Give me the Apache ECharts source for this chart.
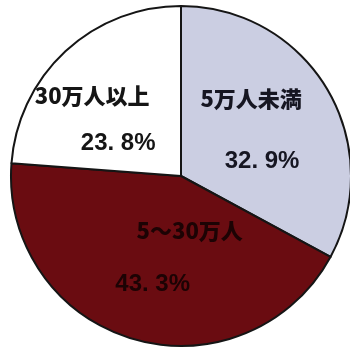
<!DOCTYPE html>
<html>
<head>
<meta charset="utf-8">
<script src="https://cdn.jsdelivr.net/npm/echarts@6/dist/echarts.min.js"></script>
<style>
  html, body { margin: 0; padding: 0; background: #ffffff; }
  #chart { width: 350px; height: 348px; }
</style>
</head>
<body>
<div id="chart"></div>
<script>
// Population-size groups and their shares (%)
const categories = ['5万人未満', '5～30万人', '30万人以上'];
const shares = [32.9, 43.3, 23.8];

const sliceColors = ['#cbcee2', '#6a0c11', '#ffffff'];
const textColors = ['#161622', '#1c0304', '#151515'];
// label fine-tuning: block shift and horizontal stagger of name / percent lines
const labelShift = [[0, -1], [15, -3], [-16, 8]];
const lineStagger = [11, -37, 26];
const lineGap = [62, 54, 47];

const fmtPct = v => v.toFixed(1).replace('.', '. ') + '%';
const nameFont = '"Noto Sans CJK JP", sans-serif';
const pctFont = '"Liberation Sans", Arial, sans-serif';

const data = categories.map((name, i) => {
  const s = lineStagger[i];
  const padName = s >= 0 ? [0, s, 0, 0] : [0, 0, 0, -s];
  const padPct = s >= 0 ? [0, 0, 0, s] : [0, -s, 0, 0];
  return {
    name,
    value: shares[i],
    itemStyle: { color: sliceColors[i] },
    label: {
      formatter: p => '{n|' + p.name + '}\n{p|' + fmtPct(p.value) + '}',
      rich: {
        n: { fontSize: 22, fontWeight: 900, fontFamily: nameFont, color: textColors[i],
             lineHeight: lineGap[i], padding: padName },
        p: { fontSize: 24, fontWeight: 'bold', fontFamily: pctFont, color: textColors[i],
             lineHeight: lineGap[i], padding: padPct }
      }
    }
  };
});

const chart = echarts.init(document.getElementById('chart'), null, { renderer: 'canvas' });
chart.setOption({
  animation: false,
  backgroundColor: '#ffffff',
  series: [{
    type: 'pie',
    center: [181, 176],
    radius: 170,
    startAngle: 90,
    clockwise: true,
    avoidLabelOverlap: false,
    itemStyle: { borderColor: '#151515', borderWidth: 2 },
    label: { show: true, position: 'inside' },
    labelLine: { show: false },
    labelLayout: p => ({ dx: labelShift[p.dataIndex][0], dy: labelShift[p.dataIndex][1] }),
    emphasis: { disabled: true },
    data
  }]
});
</script>
</body>
</html>
